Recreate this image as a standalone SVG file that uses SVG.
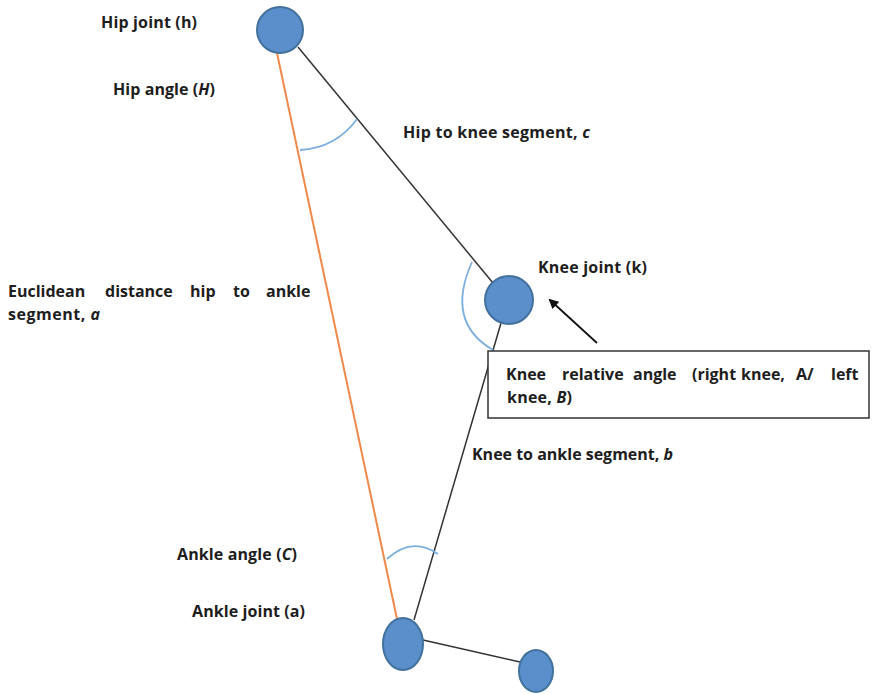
<svg xmlns="http://www.w3.org/2000/svg" width="872" height="694" viewBox="0 0 872 694">
<style>
text{font-family:"Open Sans","Liberation Sans",sans-serif;font-weight:700;font-size:16px;fill:#1e1e1e}
.i{font-style:italic}
.joint{fill:#5B8FCB;stroke:#41719C;stroke-width:2}
.seg{stroke:#333;stroke-width:1.5;fill:none}
.eu{stroke:#F08A4B;stroke-width:2;fill:none}
.arc{stroke:#7DB0E0;stroke-width:1.8;fill:none}
</style>
<defs>
<marker id="ah" markerWidth="10" markerHeight="10" refX="8" refY="5" orient="auto" markerUnits="userSpaceOnUse" viewBox="0 0 10 10">
<path d="M0,0 L10,5 L0,10 z" fill="#111"/>
</marker>
</defs>
<rect width="872" height="694" fill="#fff"/>
<g id="connectors">
<line class="eu" x1="277" y1="53" x2="397" y2="619"/>
<line class="seg" x1="298" y1="47" x2="493" y2="283"/>
<line class="seg" x1="501" y1="323" x2="414" y2="620"/>
<line class="seg" x1="423" y1="640" x2="520" y2="662"/>
<path class="arc" d="M300,150 Q336,148 357,119"/>
<path class="arc" d="M472,262 Q445,322 493,350"/>
<path class="arc" d="M387,559 Q412,536 438,554"/>
<line x1="597" y1="343" x2="550" y2="300" stroke="#111" stroke-width="1.8" marker-end="url(#ah)"/>
</g>
<g id="hip"><circle class="joint" cx="280" cy="30" r="23"/></g>
<g id="knee"><circle class="joint" cx="509" cy="300" r="24"/></g>
<g id="ankle"><ellipse class="joint" cx="403" cy="644" rx="20" ry="26"/></g>
<g id="foot"><ellipse class="joint" cx="536" cy="671" rx="17" ry="21"/></g>
<g id="labels">
<text x="101" y="28" textLength="96" lengthAdjust="spacing">Hip joint (h)</text>
<text x="113" y="95" textLength="102" lengthAdjust="spacing">Hip angle (<tspan class="i">H</tspan>)</text>
<text x="403" y="138" textLength="187" lengthAdjust="spacing">Hip to knee segment, <tspan class="i">c</tspan></text>
<text y="297"><tspan x="8">Euclidean</tspan><tspan x="105">distance</tspan><tspan x="190">hip</tspan><tspan x="233">to</tspan><tspan x="266">ankle</tspan></text>
<text x="8" y="320" textLength="92" lengthAdjust="spacing">segment, <tspan class="i">a</tspan></text>
<text x="538" y="273" textLength="109" lengthAdjust="spacing">Knee joint (k)</text>
<text x="472" y="460" textLength="201" lengthAdjust="spacing">Knee to ankle segment, <tspan class="i">b</tspan></text>
<text x="177" y="560" textLength="120" lengthAdjust="spacing">Ankle angle (<tspan class="i">C</tspan>)</text>
<text x="192" y="617" textLength="113" lengthAdjust="spacing">Ankle joint (a)</text>
</g>
<g id="knee-angle-box">
<rect x="488" y="351" width="381" height="67" fill="#fff" stroke="#333" stroke-width="1.5"/>
<text y="380"><tspan x="506">Knee</tspan><tspan x="562">relative</tspan><tspan x="633">angle</tspan><tspan x="692">(right</tspan><tspan x="741">knee,</tspan><tspan x="796">A/</tspan><tspan x="831">left</tspan></text>
<text x="507" y="403" textLength="65" lengthAdjust="spacing">knee, <tspan class="i">B</tspan>)</text>
</g>
</svg>
